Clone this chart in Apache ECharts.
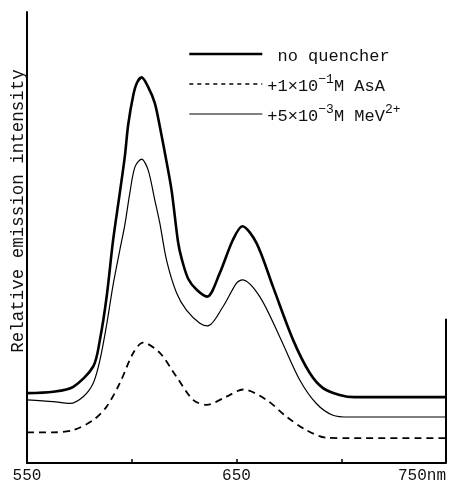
<!DOCTYPE html>
<html>
<head>
<meta charset="utf-8">
<script src="https://cdn.jsdelivr.net/npm/echarts@6/dist/echarts.min.js"></script>
<style>
html,body{margin:0;padding:0;background:#fff;}
#chart{width:450px;height:482px;}
</style>
</head>
<body>
<div id="chart"></div>
<script>
// ---- data (wavelength in nm, relative intensity in arbitrary units 0-100) ----
const seriesNames = ['no quencher', '+1×10-1M AsA', '+5×10-3M MeV2+'];

const nmNoQuencher = [550, 562.5, 572.1, 581.6, 584.8, 588.0, 591.1, 594.3, 596.7, 598.3, 600.7, 602.5, 604.7, 607.8, 611.0, 613.4, 616.0, 619.0, 622.1, 624.0, 627.0, 631.0, 636.0, 642.0, 648.2, 652.8, 659.5, 667.4, 677.0, 684.9, 691.3, 699.2, 706.4, 750];
const valNoQuencher = [15.5, 15.8, 16.9, 21.4, 27.3, 36.8, 49.4, 59.9, 68.0, 75.0, 81.5, 84.3, 85.5, 83.4, 79.8, 74.6, 68.3, 60.5, 49.0, 45.0, 40.8, 38.4, 36.9, 42.1, 49.4, 52.5, 48.8, 39.1, 27.3, 20.0, 16.6, 15.1, 14.6, 14.6];

const nmAsA = [550, 562.4, 572.1, 581.6, 588.0, 594.3, 600.7, 605.4, 613.4, 621.4, 629.3, 635.7, 645.2, 653.1, 664.3, 673.8, 683.3, 692.9, 704.0, 750];
const valAsA = [6.8, 6.8, 7.3, 9.5, 12.5, 17.7, 24.4, 26.7, 24.4, 19.1, 14.0, 12.9, 14.7, 16.3, 14.0, 10.3, 7.3, 5.6, 5.5, 5.5];

const nmMeV = [550, 562.5, 570.5, 576.8, 581.6, 584.8, 588.0, 591.1, 594.3, 596.7, 599.1, 601.5, 604.7, 607.8, 611.0, 613.4, 616.6, 621.4, 626.1, 632.5, 636.3, 643.6, 650.0, 652.8, 661.1, 670.6, 680.2, 688.1, 696.0, 704.0, 750];
const valMeV = [14.0, 13.6, 13.2, 14.7, 17.7, 22.8, 30.6, 39.5, 47.2, 52.8, 59.9, 65.6, 67.4, 65.0, 58.3, 53.2, 45.0, 37.7, 33.9, 31.0, 30.4, 34.7, 39.9, 40.6, 36.9, 28.0, 18.4, 13.2, 10.6, 10.2, 10.2];

const xTickLabels = {550: '550', 600: '', 650: '650', 700: '', 750: '750nm'};
const yAxisTitle = 'Relative emission intensity';
const rightEdgeTop = 32; // top of the right-hand frame segment at 750 nm

function pairs(xs, ys) { return xs.map((x, i) => [x, ys[i]]); }

const FONT = '"Liberation Mono", "DejaVu Sans Mono", monospace';

const legendRich = {
  n: {fontFamily: FONT, fontSize: 17, color: '#111', lineHeight: 22, verticalAlign: 'bottom'},
  s: {fontFamily: FONT, fontSize: 13, color: '#111', lineHeight: 22, verticalAlign: 'top'}
};
const legendText = {
  'no quencher': '{n| no quencher}',
  '+1×10-1M AsA': '{n|+1×10}{s|−1}{n|M AsA}',
  '+5×10-3M MeV2+': '{n|+5×10}{s|−3}{n|M MeV}{s|2+}'
};
const legendLineStyles = [
  {color: '#000', width: 2.6, type: 'solid'},
  {color: '#000', width: 1.6, type: [4, 4]},
  {color: '#000', width: 1.2, type: 'solid'}
];

const chart = echarts.init(document.getElementById('chart'), null, {renderer: 'canvas'});
chart.setOption({
  animation: false,
  backgroundColor: '#fff',
  grid: {left: 27, right: 4, top: 12, bottom: 19, containLabel: false, outerBoundsMode: 'none'},
  legend: {
    orient: 'vertical',
    left: 183,
    top: 43,
    itemWidth: 73,
    itemHeight: 12,
    itemGap: 8,
    selectedMode: false,
    itemStyle: {opacity: 0, borderWidth: 0},
    data: seriesNames.map((n, i) => ({name: n, lineStyle: legendLineStyles[i], itemStyle: {opacity: 0}})),
    formatter: name => legendText[name],
    textStyle: {rich: legendRich, fontFamily: FONT, fontSize: 17, color: '#111'}
  },
  xAxis: {
    type: 'value',
    min: 550, max: 750, interval: 50,
    axisLine: {show: true, onZero: false, lineStyle: {color: '#000', width: 2}},
    axisTick: {show: true, inside: true, length: 4, lineStyle: {color: '#000', width: 1.5}},
    splitLine: {show: false},
    axisLabel: {
      show: true, margin: 5,
      fontFamily: FONT, fontSize: 16, color: '#111',
      formatter: v => xTickLabels[v] !== undefined ? xTickLabels[v] : '',
      align: 'center',
      alignMaxLabel: 'right'
    }
  },
  yAxis: {
    type: 'value',
    min: 0, max: 100,
    axisLine: {show: true, lineStyle: {color: '#000', width: 2}},
    axisTick: {show: false},
    axisLabel: {show: false},
    splitLine: {show: false}
  },
  graphic: [{
    type: 'text',
    x: 18, y: 211,
    rotation: Math.PI / 2,
    style: {
      text: yAxisTitle,
      font: '17.5px ' + FONT,
      fill: '#111',
      textAlign: 'center',
      textVerticalAlign: 'middle'
    }
  }],
  series: [
    {
      name: seriesNames[0], type: 'line', data: pairs(nmNoQuencher, valNoQuencher),
      smooth: 0.3, symbol: 'none', lineStyle: {color: '#000', width: 2.6},
      itemStyle: {color: '#000'},
      markLine: {
        silent: true, symbol: 'none', label: {show: false},
        lineStyle: {color: '#000', width: 2, type: 'solid'},
        data: [[{coord: [750, 0]}, {coord: [750, rightEdgeTop]}]]
      }
    },
    {
      name: seriesNames[1], type: 'line', data: pairs(nmAsA, valAsA),
      smooth: 0.3, symbol: 'none', lineStyle: {color: '#000', width: 1.8, type: [7, 5]},
      itemStyle: {color: '#000'}
    },
    {
      name: seriesNames[2], type: 'line', data: pairs(nmMeV, valMeV),
      smooth: 0.3, symbol: 'none', lineStyle: {color: '#000', width: 1.2},
      itemStyle: {color: '#000'}
    }
  ]
});
</script>
</body>
</html>
